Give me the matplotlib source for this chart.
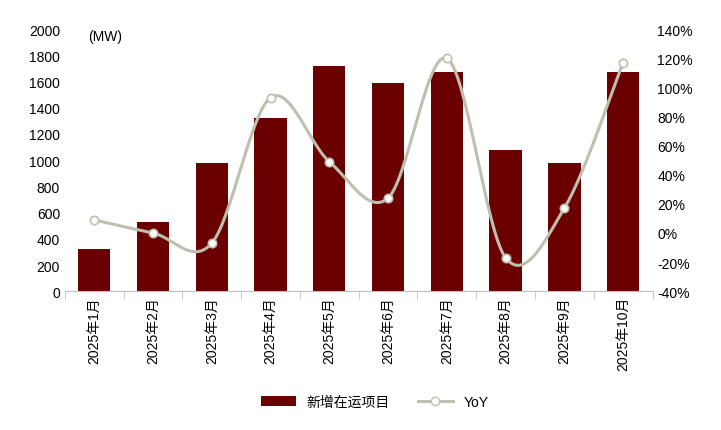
import numpy as np
import matplotlib
matplotlib.use("Agg")
import matplotlib.pyplot as plt
from matplotlib.ticker import FuncFormatter

plt.rcParams['font.family'] = ['Liberation Sans', 'Noto Sans CJK SC', 'DejaVu Sans']

months = ["2025年1月","2025年2月","2025年3月","2025年4月","2025年5月","2025年6月","2025年7月","2025年8月","2025年9月","2025年10月"]
capacity = [320, 530, 980, 1320, 1720, 1590, 1670, 1080, 980, 1670]
yoy = [9, 0, -7, 93, 49, 24, 120, -17, 17, 117]

fig = plt.figure(figsize=(7.21, 4.31), dpi=100)
ax = fig.add_axes([0.09, 0.322, 0.815, 0.608])
x = np.arange(len(months))
ax.bar(x, capacity, width=0.55, color='#6B0000', label='新增在运项目', zorder=2)
ax.set_ylim(0, 2000)
ax.set_yticks(range(0, 2001, 200))
ax.set_xlim(-0.5, len(months) - 0.5)
ax.set_xticks(x)
ax.set_xticklabels(months, rotation=90, fontsize=10)
ax.tick_params(axis='y', labelsize=10, length=0)
ax.tick_params(axis='x', length=4, color='#bfbfbf')
for s in ['top', 'right', 'left']:
    ax.spines[s].set_visible(False)
ax.spines['bottom'].set_color('#bfbfbf')
ax.set_xticks(np.arange(-0.5, len(months), 1), minor=True)
ax.tick_params(axis='x', which='minor', length=6, color='#bfbfbf')
ax.tick_params(axis='x', which='major', length=0)
ax.text(-0.1, 1920, '(MW)', fontsize=10)

ax2 = ax.twinx()
# Catmull-Rom smoothing for curve through data points
pts = np.array([x, yoy], dtype=float).T
P = np.vstack([pts[0], pts, pts[-1]])
cx, cy = [], []
t = np.linspace(0, 1, 30)
for i in range(1, len(P) - 2):
    p0, p1, p2, p3 = P[i-1], P[i], P[i+1], P[i+2]
    for tt in t:
        c = 0.5 * ((2*p1) + (-p0+p2)*tt + (2*p0-5*p1+4*p2-p3)*tt**2 + (-p0+3*p1-3*p2+p3)*tt**3)
        cx.append(c[0]); cy.append(c[1])
ax2.plot(cx, cy, color='#BFBFAF', lw=2.2, zorder=3)
ax2.plot(x, yoy, 'o', color='#BFBFAF', mfc='white', ms=6, mew=1.2, zorder=4)
ax2.plot([], [], '-o', color='#BFBFAF', mfc='white', lw=2.2, label='YoY')
ax2.set_ylim(-40, 140)
ax2.set_yticks(range(-40, 141, 20))
ax2.yaxis.set_major_formatter(FuncFormatter(lambda v, p: f"{int(v)}%"))
ax2.tick_params(axis='y', labelsize=10, length=0)
for s in ['top', 'right', 'left', 'bottom']:
    ax2.spines[s].set_visible(False)

h1, l1 = ax.get_legend_handles_labels()
h2, l2 = ax2.get_legend_handles_labels()
fig.legend(h1 + h2, l1 + l2, loc='lower center', bbox_to_anchor=(0.52, 0.02), ncol=2, frameon=False, fontsize=10, handlelength=2.5)
fig.savefig('out.png', dpi=100)
